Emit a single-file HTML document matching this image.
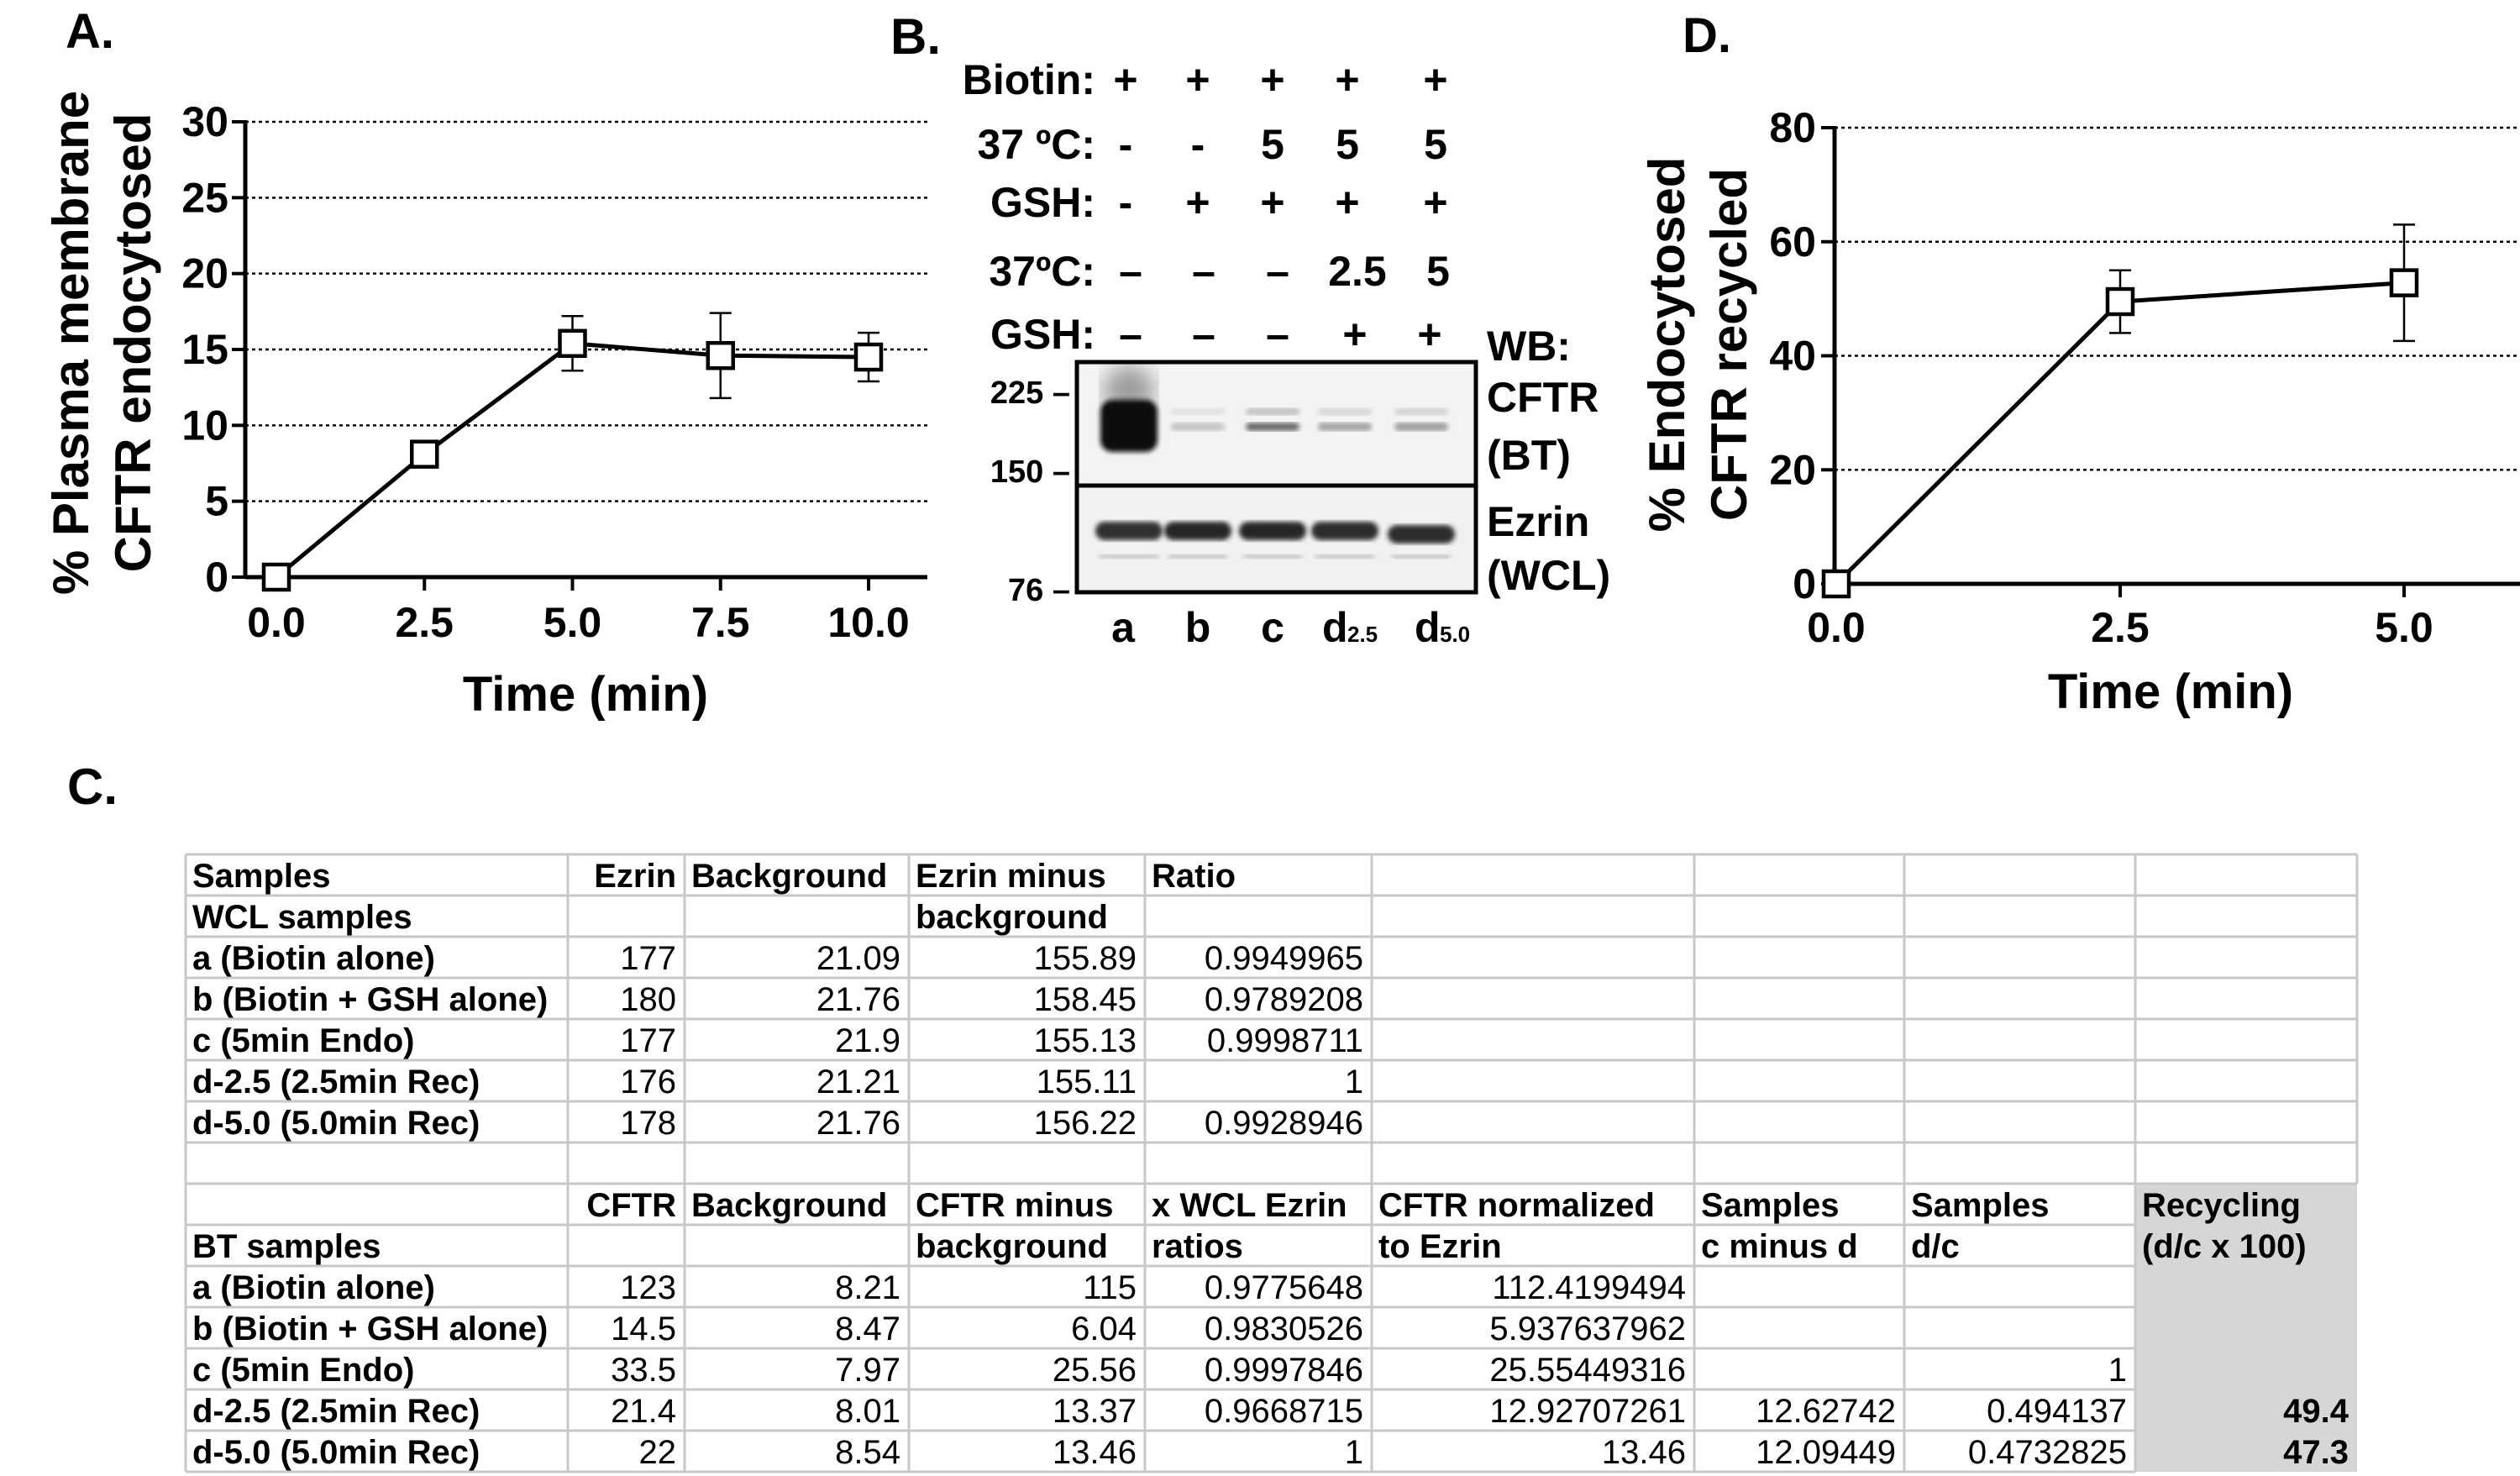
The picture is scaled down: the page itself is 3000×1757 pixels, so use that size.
<!DOCTYPE html>
<html><head><meta charset="utf-8">
<style>
html,body{margin:0;padding:0;background:#fff;}
svg{display:block;font-family:"Liberation Sans",Arial,sans-serif;}
</style></head>
<body>
<svg id="fig" width="3000" height="1757" viewBox="0 0 3000 1757" xmlns="http://www.w3.org/2000/svg">
<defs>
<filter id="blur3"><feGaussianBlur stdDeviation="3"/></filter>
<filter id="blur6"><feGaussianBlur stdDeviation="6"/></filter>
<filter id="blur12"><feGaussianBlur stdDeviation="12"/></filter>
</defs>
<g id="panelA"></g>
<g id="panelB"></g>
<g id="panelD"></g>
<g id="panelC"></g>
</svg>
<script>
// ---------- Panel A data ----------
const aTimes = [0, 2.5, 5, 7.5, 10];
const aValues = [0, 8.1, 15.4, 14.6, 14.5];
const aErrors = [0, 0.6, 1.8, 2.8, 1.6];
const aYTicks = [0, 5, 10, 15, 20, 25, 30];
const aXTickLabels = ["0.0", "2.5", "5.0", "7.5", "10.0"];
// ---------- Panel D data ----------
const dTimes = [0, 2.5, 5];
const dValues = [0, 49.5, 52.8];
const dErrors = [0, 5.5, 10.2];
const dYTicks = [0, 20, 40, 60, 80];
const dXTicks = [0, 2.5, 5];
const dXTickLabels = ["0.0", "2.5", "5.0"];
// ---------- Panel B data ----------
const laneLabels = ["a", "b", "c", "d", "d"];
const laneSubs = ["", "", "", "2.5", "5.0"];
const cftrIntensity = [1.0, 0.12, 0.35, 0.2, 0.22];
const ezrinIntensity = [0.9, 0.95, 0.95, 0.92, 0.92];

const NS = "http://www.w3.org/2000/svg";
function mk(parent, tag, attrs, text) {
  const e = document.createElementNS(NS, tag);
  for (const k in attrs) e.setAttribute(k, attrs[k]);
  if (text !== undefined) e.textContent = text;
  parent.appendChild(e);
  return e;
}

function drawChart(g, o) {
  const sx = v => o.x0 + (v - o.xmin) / (o.xmax - o.xmin) * (o.x1 - o.x0);
  const sy = v => o.y0 - (v - o.ymin) / (o.ymax - o.ymin) * (o.y0 - o.y1);
  // gridlines
  o.yTicks.forEach(t => {
    if (t === 0) return;
    const l = mk(g, "line", {x1: o.x0, x2: o.gridEnd, y1: sy(t), y2: sy(t), stroke: "#000", "stroke-width": 2.5, "stroke-dasharray": "4 4"});
    
    
  });
  // axes
  const ya = mk(g, "line", {x1: o.x0, x2: o.x0, y1: o.y1 - 2, y2: o.y0 + 2, stroke: "#000", "stroke-width": 5});
  
  
  const xa = mk(g, "line", {x1: o.x0, x2: o.axisEnd, y1: o.y0, y2: o.y0, stroke: "#000", "stroke-width": 5});
  
  
  o.yTicks.forEach(t => {
    const tk = mk(g, "line", {x1: o.x0 - 16, x2: o.x0, y1: sy(t), y2: sy(t), stroke: "#000", "stroke-width": 4});
    
    
    const tl = mk(g, "text", {x: o.x0 - 20, y: sy(t) + 17, "text-anchor": "end", "font-size": 50, "font-weight": "bold"}, String(t));
    
    
  });
  o.xTicks.forEach((t, i) => {
    const tk = mk(g, "line", {x1: sx(t), x2: sx(t), y1: o.y0, y2: o.y0 + 16, stroke: "#000", "stroke-width": 4});
    
    
    const tl = mk(g, "text", {x: sx(t), y: o.xLabelY, "text-anchor": "middle", "font-size": 50, "font-weight": "bold"}, o.xTickLabels[i]);
    
    
  });
  // line
  const pts = o.xs.map((x, i) => sx(x) + "," + sy(o.ys[i])).join(" ");
  const pl = mk(g, "polyline", {points: pts, fill: "none", stroke: "#000", "stroke-width": 5});
  
  
  // error bars + markers
  o.xs.forEach((x, i) => {
    const e = o.es[i];
    if (e > 0) {
      const eb = mk(g, "path", {d: `M${sx(x)},${sy(o.ys[i] + e)}V${sy(o.ys[i] - e)}M${sx(x) - 13},${sy(o.ys[i] + e)}h26M${sx(x) - 13},${sy(o.ys[i] - e)}h26`, stroke: "#000", "stroke-width": 2.5, fill: "none"});
      
      
    }
    const m = mk(g, "rect", {x: sx(x) - 15, y: sy(o.ys[i]) - 15, width: 30, height: 30, fill: "#fff", stroke: "#000", "stroke-width": 4.5});
    
    
  });
}

// Panel A
const gA = document.getElementById("panelA");
drawChart(gA, {x0: 292, x1: 1034, xmin: 0, xmax: 10, y0: 687, y1: 145, ymin: 0, ymax: 30,
  gridEnd: 1104, axisEnd: 1104, yTicks: aYTicks, xTicks: aTimes, xTickLabels: aXTickLabels, xLabelY: 758,
  xs: aTimes, ys: aValues, es: aErrors});
// correct x offset: 0.0 sits at 329
gA.setAttribute("transform", "translate(0,0)");
</script>
<script>
// re-draw panel A properly with offset x origin (0 at 329)
(function(){
  const g = document.getElementById("panelA");
  while (g.firstChild) g.removeChild(g.firstChild);
  const sx = v => 329 + v / 10 * (1034 - 329);
  const sy = v => 687 - v / 30 * (687 - 145);
  aYTicks.forEach(t => {
    if (t === 0) return;
    const l = mk(g, "line", {x1: 292, x2: 1104, y1: sy(t), y2: sy(t), stroke: "#000", "stroke-width": 2.5, "stroke-dasharray": "4 4"});
    
    
  });
  const ya = mk(g, "line", {x1: 292, x2: 292, y1: 143, y2: 689, stroke: "#000", "stroke-width": 5});
  
  
  const xa = mk(g, "line", {x1: 292, x2: 1104, y1: 687, y2: 687, stroke: "#000", "stroke-width": 5});
  
  
  aYTicks.forEach(t => {
    const tk = mk(g, "line", {x1: 276, x2: 292, y1: sy(t), y2: sy(t), stroke: "#000", "stroke-width": 4});
    
    
    const tl = mk(g, "text", {x: 272, y: sy(t) + 17, "text-anchor": "end", "font-size": 50, "font-weight": "bold"}, String(t));
    
    
  });
  aTimes.forEach((t, i) => {
    const tk = mk(g, "line", {x1: sx(t), x2: sx(t), y1: 687, y2: 703, stroke: "#000", "stroke-width": 4});
    
    
    const tl = mk(g, "text", {x: sx(t), y: 758, "text-anchor": "middle", "font-size": 50, "font-weight": "bold"}, aXTickLabels[i]);
    
    
  });
  const pl = mk(g, "polyline", {points: aTimes.map((x, i) => sx(x) + "," + sy(aValues[i])).join(" "), fill: "none", stroke: "#000", "stroke-width": 5});
  
  
  aTimes.forEach((x, i) => {
    const e = aErrors[i], v = aValues[i];
    if (e > 0) {
      const eb = mk(g, "path", {d: `M${sx(x)},${sy(v + e)}V${sy(v - e)}M${sx(x) - 13},${sy(v + e)}h26M${sx(x) - 13},${sy(v - e)}h26`, stroke: "#000", "stroke-width": 2.5, fill: "none"});
      
      
    }
    const m = mk(g, "rect", {x: sx(x) - 15, y: sy(v) - 15, width: 30, height: 30, fill: "#fff", stroke: "#000", "stroke-width": 4.5});
    
    
  });
  const lab = mk(g, "text", {x: 78, y: 57, "font-size": 58, "font-weight": "bold"}, "A.");
  
  
  const t1 = mk(g, "text", {x: 0, y: 0, "text-anchor": "middle", "font-size": 60, "font-weight": "bold", transform: "translate(105,408) rotate(-90)"}, "% Plasma membrane");
  
  
  const t2 = mk(g, "text", {x: 0, y: 0, "text-anchor": "middle", "font-size": 60, "font-weight": "bold", transform: "translate(179,408) rotate(-90)"}, "CFTR endocytosed");
  
  
  const xt = mk(g, "text", {x: 697, y: 846, "text-anchor": "middle", "font-size": 58, "font-weight": "bold"}, "Time (min)");
  
  
})();

// Panel D
(function(){
  const g = document.getElementById("panelD");
  const sx = v => 2186 + v / 2.5 * (2524 - 2186);
  const sy = v => 695 - v / 80 * (695 - 152);
  dYTicks.forEach(t => {
    if (t === 0) return;
    const l = mk(g, "line", {x1: 2184, x2: 3000, y1: sy(t), y2: sy(t), stroke: "#000", "stroke-width": 2.5, "stroke-dasharray": "4 4"});
    
    
  });
  const ya = mk(g, "line", {x1: 2184, x2: 2184, y1: 150, y2: 697, stroke: "#000", "stroke-width": 5});
  
  
  const xa = mk(g, "line", {x1: 2184, x2: 3000, y1: 695, y2: 695, stroke: "#000", "stroke-width": 5});
  
  
  dYTicks.forEach(t => {
    const tk = mk(g, "line", {x1: 2168, x2: 2184, y1: sy(t), y2: sy(t), stroke: "#000", "stroke-width": 4});
    
    
    const tl = mk(g, "text", {x: 2162, y: sy(t) + 17, "text-anchor": "end", "font-size": 50, "font-weight": "bold"}, String(t));
    
    
  });
  dXTicks.forEach((t, i) => {
    const tk = mk(g, "line", {x1: sx(t), x2: sx(t), y1: 695, y2: 711, stroke: "#000", "stroke-width": 4});
    
    
    const tl = mk(g, "text", {x: sx(t), y: 764, "text-anchor": "middle", "font-size": 50, "font-weight": "bold"}, dXTickLabels[i]);
    
    
  });
  const pl = mk(g, "polyline", {points: dTimes.map((x, i) => sx(x) + "," + sy(dValues[i])).join(" "), fill: "none", stroke: "#000", "stroke-width": 5});
  
  
  dTimes.forEach((x, i) => {
    const e = dErrors[i], v = dValues[i];
    if (e > 0) {
      const eb = mk(g, "path", {d: `M${sx(x)},${sy(v + e)}V${sy(v - e)}M${sx(x) - 13},${sy(v + e)}h26M${sx(x) - 13},${sy(v - e)}h26`, stroke: "#000", "stroke-width": 2.5, fill: "none"});
      
      
    }
    const m = mk(g, "rect", {x: sx(x) - 15, y: sy(v) - 15, width: 30, height: 30, fill: "#fff", stroke: "#000", "stroke-width": 4.5});
    
    
  });
  const lab = mk(g, "text", {x: 2003, y: 62, "font-size": 58, "font-weight": "bold"}, "D.");
  
  
  const t1 = mk(g, "text", {x: 0, y: 0, "text-anchor": "middle", "font-size": 60, "font-weight": "bold", transform: "translate(2005,410) rotate(-90)"}, "% Endocytosed");
  
  
  const t2 = mk(g, "text", {x: 0, y: 0, "text-anchor": "middle", "font-size": 60, "font-weight": "bold", transform: "translate(2079,410) rotate(-90)"}, "CFTR recycled");
  
  
  const xt = mk(g, "text", {x: 2584, y: 843, "text-anchor": "middle", "font-size": 58, "font-weight": "bold"}, "Time (min)");
  
  
})();

// Panel B
(function(){
  const g = document.getElementById("panelB");
  const lab = mk(g, "text", {x: 1060, y: 64, "font-size": 60, "font-weight": "bold"}, "B.");
  
  
  const colX = [1340, 1426, 1515, 1604, 1709];
  const rows = [
    {label: "Biotin:", y: 94, vals: ["+", "+", "+", "+", "+"]},
    {label: "37 ºC:", y: 171, vals: ["-", "-", "5", "5", "5"]},
    {label: "GSH:", y: 240, vals: ["-", "+", "+", "+", "+"]},
    {label: "37ºC:", y: 322, vals: ["–", "–", "–", "2.5", "5"]},
    {label: "GSH:", y: 397, vals: ["–", "–", "–", "+", "+"]}
  ];
  const altX = [[1340,1426,1515,1604,1709],[1340,1426,1515,1604,1709],[1340,1426,1515,1604,1709],[1346,1433,1521,1616,1712],[1346,1433,1521,1613,1702]];
  rows.forEach((r, ri) => {
    const t = mk(g, "text", {x: 1304, y: r.y + 18, "text-anchor": "end", "font-size": 50, "font-weight": "bold"}, r.label);
    
    
    r.vals.forEach((v, i) => {
      const c = mk(g, "text", {x: altX[ri][i], y: r.y + 18, "text-anchor": "middle", "font-size": 50, "font-weight": "bold"}, v);
      
      
    });
  });
  // blot background
  const bg1 = mk(g, "rect", {x: 1282, y: 431, width: 475, height: 147, fill: "#f3f3f3"});
  
  
  const bg2 = mk(g, "rect", {x: 1282, y: 578, width: 475, height: 127, fill: "#f1f1f1"});
  
  
  const laneX = [1344, 1426, 1515, 1601, 1692];
  laneX.forEach((x, i) => {
    const k = cftrIntensity[i];
    if (k > 0.8) {
      const sm = mk(g, "ellipse", {cx: x, cy: 465, rx: 30, ry: 30, fill: "#000", opacity: 0.35, filter: "url(#blur12)"});
      
      
      const b = mk(g, "rect", {x: x - 34, y: 476, width: 68, height: 62, rx: 14, fill: "#0a0a0a", filter: "url(#blur3)"});
      
      
    } else {
      const b1 = mk(g, "rect", {x: x - 32, y: 503, width: 64, height: 10, rx: 5, fill: "#000", opacity: k * 1.6, filter: "url(#blur3)"});
      
      
      const b2 = mk(g, "rect", {x: x - 32, y: 486, width: 64, height: 8, rx: 4, fill: "#000", opacity: k * 0.6, filter: "url(#blur3)"});
      
      
    }
    const e = mk(g, "rect", {x: x - 40, y: 621 + (i === 4 ? 4 : 0), width: 80, height: 22, rx: 11, fill: "#1a1a1a", opacity: ezrinIntensity[i], filter: "url(#blur3)"});
    
    
    const f = mk(g, "rect", {x: x - 35, y: 660, width: 70, height: 5, fill: "#000", opacity: 0.2, filter: "url(#blur3)"});
    
    
  });
  const box = mk(g, "rect", {x: 1282, y: 431, width: 475, height: 274, fill: "none", stroke: "#000", "stroke-width": 5});
  
  
  const div = mk(g, "line", {x1: 1282, x2: 1757, y1: 578, y2: 578, stroke: "#000", "stroke-width": 5});
  
  
  [["225 –", 467], ["150 –", 561], ["76 –", 702]].forEach(m => {
    const t = mk(g, "text", {x: 1274, y: m[1] + 13, "text-anchor": "end", "font-size": 38, "font-weight": "bold"}, m[0]);
    
    
  });
  [["WB:", 411], ["CFTR", 472], ["(BT)", 541], ["Ezrin", 620], ["(WCL)", 684]].forEach(m => {
    const t = mk(g, "text", {x: 1770, y: m[1] + 18, "font-size": 50, "font-weight": "bold"}, m[0]);
    
    
  });
  const lx = [1337, 1426, 1515, 1574, 1684];
  laneLabels.forEach((l, i) => {
    const t = mk(g, "text", {x: lx[i], y: 764, "text-anchor": laneSubs[i] ? "start" : "middle", "font-size": 50, "font-weight": "bold"}, l);
    
    
    if (laneSubs[i]) {
      const s = mk(g, "text", {x: lx[i] + 30, y: 764, "font-size": 26, "font-weight": "bold"}, laneSubs[i]);
      
      
    }
  });
})();

// Panel C table
(function(){
  const g = document.getElementById("panelC");
  const lab = mk(g, "text", {x: 80, y: 957, "font-size": 60, "font-weight": "bold"}, "C.");
  
  
  const cols = [221, 676, 815, 1082, 1363, 1633, 2017, 2267, 2542, 2806];
  const top = 1017, rh = 49, nRows = 15;
  const gray = mk(g, "rect", {x: 2542, y: top + 8 * rh, width: 264, height: 7 * rh, fill: "#d6d6d6"});
  
  
  for (let r = 0; r <= nRows; r++) {
    const y = top + r * rh;
    const l = mk(g, "line", {x1: cols[0], x2: r >= 9 ? 2542 : cols[9], y1: y, y2: y, stroke: "#c8c8c8", "stroke-width": 3});
    
    
  }
  cols.forEach((x, i) => {
    const l = mk(g, "line", {x1: x, x2: x, y1: top, y2: (i === 9) ? top + 8 * rh : top + nRows * rh, stroke: "#c8c8c8", "stroke-width": 3});
    
    
  });
  // cell: [text, bold, align]
  const B = (t) => [t, true, "l"], Br = (t) => [t, true, "r"], N = (t) => [t, false, "r"], E = null;
  const data = [
    [B("Samples"), Br("Ezrin"), B("Background"), B("Ezrin minus"), B("Ratio")],
    [B("WCL samples"), E, E, B("background")],
    [B("a (Biotin alone)"), N("177"), N("21.09"), N("155.89"), N("0.9949965")],
    [B("b (Biotin + GSH alone)"), N("180"), N("21.76"), N("158.45"), N("0.9789208")],
    [B("c (5min Endo)"), N("177"), N("21.9"), N("155.13"), N("0.9998711")],
    [B("d-2.5 (2.5min Rec)"), N("176"), N("21.21"), N("155.11"), N("1")],
    [B("d-5.0 (5.0min Rec)"), N("178"), N("21.76"), N("156.22"), N("0.9928946")],
    [],
    [E, Br("CFTR"), B("Background"), B("CFTR minus"), B("x WCL Ezrin"), B(" CFTR normalized"), B("Samples"), B("Samples"), B("Recycling")],
    [B("BT samples"), E, E, B("background"), B("ratios"), B("to Ezrin"), B("c minus d"), B("d/c"), B("(d/c x 100)")],
    [B("a (Biotin alone)"), N("123"), N("8.21"), N("115"), N("0.9775648"), N("112.4199494")],
    [B("b (Biotin + GSH alone)"), N("14.5"), N("8.47"), N("6.04"), N("0.9830526"), N("5.937637962")],
    [B("c (5min Endo)"), N("33.5"), N("7.97"), N("25.56"), N("0.9997846"), N("25.55449316"), E, N("1")],
    [B("d-2.5 (2.5min Rec)"), N("21.4"), N("8.01"), N("13.37"), N("0.9668715"), N("12.92707261"), N("12.62742"), N("0.494137"), Br("49.4")],
    [B("d-5.0 (5.0min Rec)"), N("22"), N("8.54"), N("13.46"), N("1"), N("13.46"), N("12.09449"), N("0.4732825"), Br("47.3")]
  ];
  data.forEach((row, r) => {
    row.forEach((c, ci) => {
      if (!c) return;
      const y = top + r * rh + 39;
      const x = c[2] === "l" ? cols[ci] + 8 : cols[ci + 1] - 10;
      const t = mk(g, "text", {x: x, y: y, "text-anchor": c[2] === "l" ? "start" : "end", "font-size": 40, "font-weight": c[1] ? "bold" : "normal", "xml:space": "preserve"}, c[0]);
      
      
    });
  });
})();
</script>
</body></html>
